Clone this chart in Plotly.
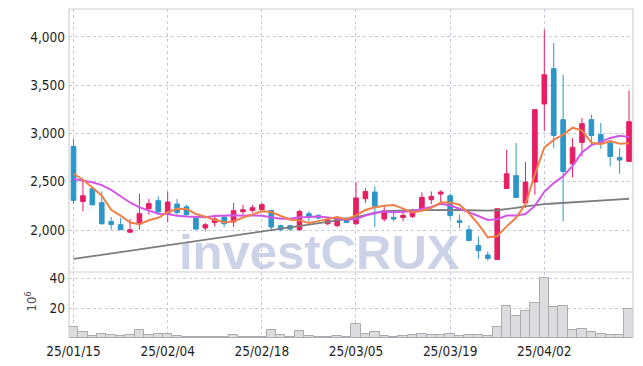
import plotly.graph_objects as go

dates = ["25/01/15","25/01/16","25/01/17","25/01/20","25/01/21","25/01/22","25/01/23","25/01/24","25/01/31","25/02/03",
         "25/02/04","25/02/05","25/02/06","25/02/07","25/02/10","25/02/11","25/02/12","25/02/13","25/02/14","25/02/17",
         "25/02/18","25/02/19","25/02/20","25/02/21","25/02/24","25/02/25","25/02/26","25/02/27","25/02/28","25/03/04",
         "25/03/05","25/03/06","25/03/07","25/03/10","25/03/11","25/03/12","25/03/13","25/03/14","25/03/17","25/03/18",
         "25/03/19","25/03/20","25/03/21","25/03/24","25/03/25","25/03/26","25/03/27","25/03/28","25/03/31","25/04/01",
         "25/04/02","25/04/03","25/04/04","25/04/07","25/04/08","25/04/09","25/04/10","25/04/11","25/04/14","25/04/15"]

opens = [2866,2296,2428,2283,2089,2055,1977,2062,2221,2304,
         2169,2269,2241,2124,2021,2079,2135,2083,2190,2203,
         2210,2203,2045,2045,2003,2169,2152,2065,2045,2124,
         2065,2324,2394,2114,2131,2131,2141,2218,2314,2373,
         2355,2096,2003,1840,1741,1695,2431,2563,2280,2497,
         3306,3672,3143,2684,2908,3143,2988,2902,2752,2711]

highs = [2946,2521,2435,2400,2135,2124,2114,2376,2321,2348,
         2397,2321,2262,2124,2072,2159,2135,2280,2262,2262,
         2280,2203,2055,2050,2210,2193,2162,2124,2140,2130,
         2497,2435,2452,2245,2203,2210,2220,2390,2400,2410,
         2380,2159,2048,1934,1779,2225,2832,2901,2705,3250,
         4076,3938,3609,2953,3161,3195,3109,2936,2850,3447]

lows = [2269,2193,2252,2055,2003,2003,1972,2003,2159,2159,
        2079,2148,2148,2005,1986,2037,2031,2031,2159,2180,
        2200,1986,1986,1990,1990,2090,2110,2050,2030,2070,
        2055,2280,2031,2090,2090,2090,2124,2193,2269,2280,
        2110,2021,1892,1700,1682,1690,2431,2338,2228,2366,
        3029,2850,2089,2545,2763,2884,2839,2659,2584,2711]

closes = [2307,2355,2262,2065,2058,2003,2003,2169,2273,2187,
          2290,2182,2159,2010,2055,2114,2065,2200,2210,2231,
          2262,2031,2003,2010,2193,2131,2124,2100,2124,2079,
          2332,2400,2245,2200,2114,2152,2193,2338,2348,2394,
          2151,2079,1892,1786,1706,2221,2583,2338,2497,3247,
          3609,2980,2607,2856,3102,2980,2902,2763,2725,3122]

volumes_m = [7.5,4.0,1.1,2.9,2.0,1.1,2.0,5.4,2.0,2.5,
             2.9,1.5,0.8,1.0,0.6,0.5,0.6,1.8,0.7,0.6,
             0.8,5.5,2.2,0.8,4.4,1.5,0.8,0.9,1.5,0.8,
             9.5,2.9,3.7,1.5,0.8,1.1,1.8,2.9,2.2,2.2,
             2.9,1.5,2.2,2.2,1.5,7.5,21.5,14.9,18.2,23.3,
             40.0,20.7,21.5,5.4,6.1,4.1,2.8,2.1,2.1,19.6]

ma5 = [2583,2521,2441,2355,2209,2149,2078,2060,2101,2127,
       2184,2220,2218,2166,2139,2104,2081,2089,2129,2164,
       2194,2187,2147,2107,2100,2074,2092,2112,2134,2112,
       2152,2207,2236,2251,2258,2222,2181,2199,2229,2285,
       2285,2262,2173,2060,1923,1937,2038,2127,2269,2577,
       2855,2934,2988,3060,3031,2905,2889,2921,2894,2898]

ma10 = [2528,2515,2495,2465,2415,2350,2285,2235,2200,2168,
        2167,2149,2139,2133,2133,2144,2150,2154,2147,2152,
        2149,2134,2118,2118,2132,2134,2140,2130,2121,2106,
        2113,2150,2174,2193,2185,2187,2194,2218,2240,2272,
        2254,2221,2186,2145,2104,2111,2150,2150,2165,2250,
        2396,2486,2557,2664,2804,2880,2912,2954,2977,2965]

ma_long = [1700,1714,1728,1742,1756,1770,1784,1798,1812,1826,
           1840,1855,1870,1884,1898,1912,1926,1940,1954,1968,
           1982,1996,2010,2025,2040,2055,2070,2085,2098,2112,
           2130,2155,2180,2195,2200,2203,2205,2207,2208,2210,
           2210,2208,2205,2200,2200,2205,2215,2230,2245,2258,
           2268,2275,2280,2285,2292,2300,2306,2312,2318,2324]

tick_dates = ["25/01/15","25/02/04","25/02/18","25/03/05","25/03/19","25/04/02"]
price_ticks = [2000, 2500, 3000, 3500, 4000]
volume_ticks = [20, 40]

UP = "#E61E64"
DOWN = "#2C96C8"
GRID = "rgb(196,200,222)"
FRAME = "rgb(208,208,214)"
FONT = "DejaVu Sans Condensed, DejaVu Sans, sans-serif"
TICKFONT = dict(family=FONT, size=13.5, color="#1e1e1e")
VSPLIT = 0.2006

fig = go.Figure()

fig.add_trace(go.Bar(x=dates, y=volumes_m, xaxis="x", yaxis="y2",
                     marker=dict(color="rgb(220,220,222)", line=dict(color="rgb(172,172,176)", width=1)),
                     hoverinfo="skip", showlegend=False))

fig.add_trace(go.Scatter(x=dates, y=ma_long, mode="lines", line=dict(color="rgb(125,125,125)", width=1.8),
                         xaxis="x", yaxis="y", showlegend=False, hoverinfo="skip"))
fig.add_trace(go.Scatter(x=dates, y=ma10, mode="lines", line=dict(color="rgb(210,85,232)", width=2),
                         xaxis="x", yaxis="y", showlegend=False, hoverinfo="skip"))
fig.add_trace(go.Scatter(x=dates, y=ma5, mode="lines", line=dict(color="rgb(240,128,70)", width=2),
                         xaxis="x", yaxis="y", showlegend=False, hoverinfo="skip"))

fig.add_trace(go.Candlestick(x=dates, open=opens, high=highs, low=lows, close=closes,
                             xaxis="x", yaxis="y", showlegend=False,
                             increasing=dict(line=dict(color=UP, width=1), fillcolor=UP),
                             decreasing=dict(line=dict(color=DOWN, width=1), fillcolor=DOWN),
                             whiskerwidth=0))

fig.update_layout(
    width=643, height=366,
    margin=dict(l=69, r=10, t=9, b=28, autoexpand=False),
    paper_bgcolor="white", plot_bgcolor="white",
    showlegend=False,
    bargap=0,
    xaxis=dict(type="category", range=[-0.48, 59.42], anchor="y2", domain=[0, 1],
               tickmode="array", tickvals=tick_dates, ticktext=tick_dates,
               showgrid=True, gridcolor=GRID, griddash="dot", gridwidth=1,
               zeroline=False, showline=False, ticks="", automargin=False,
               ticklabelstandoff=3, tickfont=TICKFONT,
               rangeslider=dict(visible=False)),
    yaxis=dict(domain=[VSPLIT, 1], range=[1565, 4290], anchor="x",
               tickmode="array", tickvals=price_ticks, tickformat=",",
               showgrid=True, gridcolor=GRID, griddash="dot", gridwidth=1,
               zeroline=False, showline=False, ticks="", automargin=False,
               ticklabelstandoff=3, tickfont=TICKFONT),
    yaxis2=dict(domain=[0, VSPLIT], range=[0, 44], anchor="x",
                tickmode="array", tickvals=volume_ticks,
                showgrid=True, gridcolor=GRID, griddash="dot", gridwidth=1,
                zeroline=False, showline=False, ticks="", automargin=False,
                ticklabelstandoff=3, tickfont=TICKFONT),
    shapes=[
        dict(type="rect", xref="paper", yref="paper", x0=0, x1=1, y0=VSPLIT, y1=1,
             line=dict(color=FRAME, width=1.2), layer="above"),
        dict(type="line", xref="paper", yref="paper", x0=0, x1=0, y0=0, y1=VSPLIT,
             line=dict(color=FRAME, width=1.2), layer="above"),
        dict(type="line", xref="paper", yref="paper", x0=1, x1=1, y0=0, y1=VSPLIT,
             line=dict(color=FRAME, width=1.2), layer="above"),
    ],
    annotations=[
        dict(text="investCRUX", xref="paper", yref="paper", x=0.4445, y=0.262,
             xanchor="center", yanchor="middle", showarrow=False,
             font=dict(family="Liberation Sans", size=49, color="rgba(170,182,218,0.6)", weight="bold")),
        dict(text="10<sup>6</sup>", xref="paper", yref="paper", x=-0.068, y=0.11,
             xanchor="center", yanchor="middle", showarrow=False, textangle=-90,
             font=dict(family=FONT, size=13, color="#555555")),
    ],
)

fig.write_html("out.html", config={"displayModeBar": False},
               post_script="document.body.style.margin='0px';")
